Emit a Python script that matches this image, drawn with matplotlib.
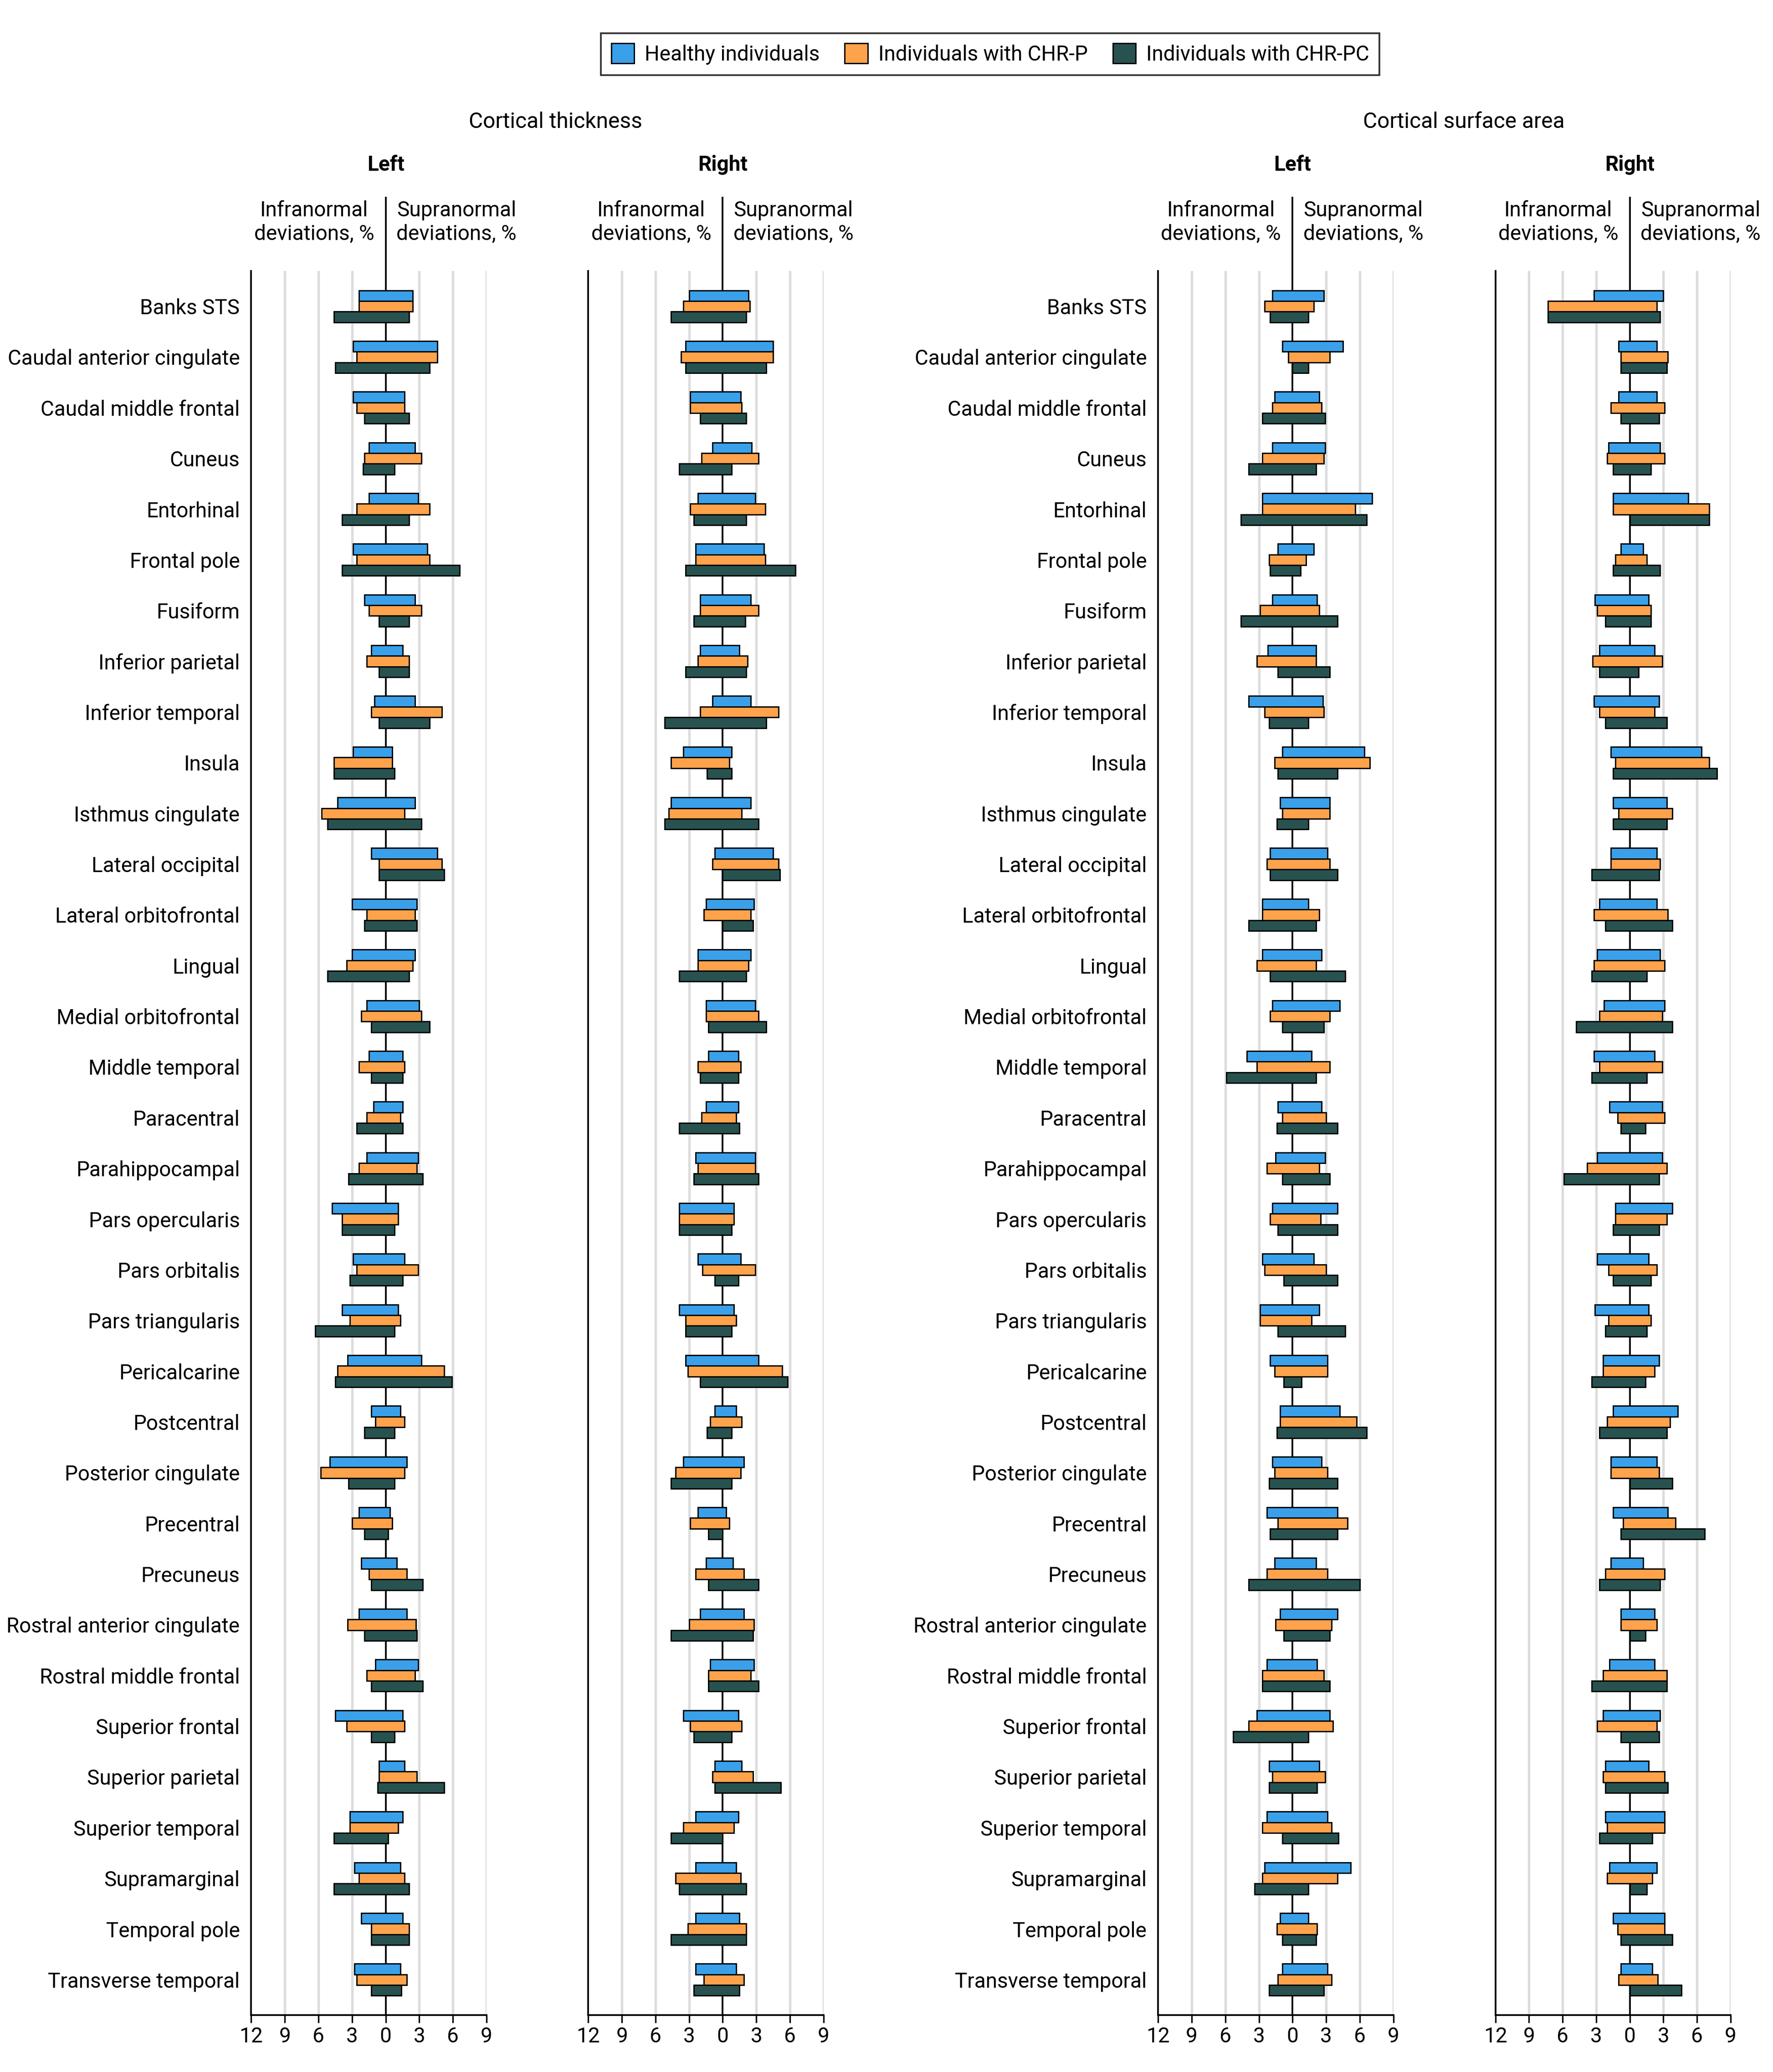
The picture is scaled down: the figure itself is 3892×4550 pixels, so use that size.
import matplotlib
matplotlib.use("Agg")
import matplotlib.pyplot as plt
from matplotlib.patches import Patch
import numpy as np

plt.rcParams['font.family'] = ['Roboto', 'DejaVu Sans']

# Brain regions (top to bottom)
regions = ["Banks STS", "Caudal anterior cingulate", "Caudal middle frontal", "Cuneus",
           "Entorhinal", "Frontal pole", "Fusiform", "Inferior parietal", "Inferior temporal",
           "Insula", "Isthmus cingulate", "Lateral occipital", "Lateral orbitofrontal",
           "Lingual", "Medial orbitofrontal", "Middle temporal", "Paracentral",
           "Parahippocampal", "Pars opercularis", "Pars orbitalis", "Pars triangularis",
           "Pericalcarine", "Postcentral", "Posterior cingulate", "Precentral", "Precuneus",
           "Rostral anterior cingulate", "Rostral middle frontal", "Superior frontal",
           "Superior parietal", "Superior temporal", "Supramarginal", "Temporal pole",
           "Transverse temporal"]

groups = ["Healthy individuals", "Individuals with CHR-P", "Individuals with CHR-PC"]
colors = ["#3aa0ea", "#ffa24c", "#28524f"]

# Cortical thickness, left hemisphere (% infranormal / % supranormal)
ct_left_hc_infra = [2.4, 2.9, 2.9, 1.5, 1.5, 2.9, 1.9, 1.3, 1.0, 2.9, 4.3, 1.3, 3.0, 3.0, 1.7, 1.5, 1.1,
                    1.7, 4.8, 2.9, 3.9, 3.4, 1.3, 5.0, 2.4, 2.2, 2.4, 0.9, 4.5, 0.6, 3.2, 2.8, 2.2, 2.8]
ct_left_hc_supra = [2.4, 4.6, 1.7, 2.6, 2.9, 3.7, 2.6, 1.5, 2.6, 0.6, 2.6, 4.6, 2.8, 2.6, 3.0, 1.5, 1.5,
                    2.9, 1.1, 1.7, 1.1, 3.2, 1.3, 1.9, 0.4, 1.0, 1.9, 2.9, 1.5, 1.7, 1.5, 1.3, 1.5, 1.3]
ct_left_p_infra = [2.4, 2.6, 2.6, 1.9, 2.6, 2.6, 1.5, 1.7, 1.3, 4.6, 5.7, 0.6, 1.7, 3.5, 2.2, 2.4, 1.7,
                   2.4, 3.9, 2.6, 3.2, 4.3, 0.9, 5.8, 3.0, 1.5, 3.4, 1.7, 3.5, 0.6, 3.2, 2.4, 1.3, 2.6]
ct_left_p_supra = [2.4, 4.6, 1.7, 3.2, 3.9, 3.9, 3.2, 2.1, 5.0, 0.6, 1.7, 5.0, 2.6, 2.4, 3.2, 1.7, 1.3,
                   2.8, 1.1, 2.9, 1.3, 5.2, 1.7, 1.7, 0.6, 1.9, 2.7, 2.6, 1.7, 2.8, 1.1, 1.7, 2.1, 1.9]
ct_left_pc_infra = [4.6, 4.5, 1.9, 2.0, 3.9, 3.9, 0.6, 0.6, 0.6, 4.6, 5.2, 0.6, 1.9, 5.2, 1.3, 1.3, 2.6,
                    3.3, 3.9, 3.2, 6.3, 4.5, 1.9, 3.3, 1.9, 1.3, 1.9, 1.3, 1.3, 0.7, 4.6, 4.6, 1.3, 1.3]
ct_left_pc_supra = [2.1, 3.9, 2.1, 0.8, 2.1, 6.6, 2.1, 2.1, 3.9, 0.8, 3.2, 5.2, 2.8, 2.1, 3.9, 1.5, 1.5,
                    3.3, 0.8, 1.5, 0.8, 5.9, 0.8, 0.8, 0.2, 3.3, 2.8, 3.3, 0.8, 5.2, 0.2, 2.1, 2.1, 1.4]

# Cortical thickness, right hemisphere
ct_right_hc_infra = [3.0, 3.3, 2.9, 0.9, 2.2, 2.4, 2.0, 2.0, 0.9, 3.5, 4.6, 0.7, 1.5, 2.2, 1.5, 1.3, 1.5,
                     2.4, 3.9, 2.2, 3.9, 3.3, 0.7, 3.5, 2.2, 1.5, 2.0, 1.1, 3.5, 0.7, 2.4, 2.4, 2.4, 2.4]
ct_right_hc_supra = [2.3, 4.5, 1.6, 2.6, 2.9, 3.7, 2.5, 1.5, 2.5, 0.8, 2.5, 4.5, 2.8, 2.5, 2.9, 1.4, 1.4,
                     2.9, 1.0, 1.6, 1.0, 3.2, 1.2, 1.9, 0.3, 0.9, 1.9, 2.8, 1.4, 1.7, 1.4, 1.2, 1.5, 1.2]
ct_right_p_infra = [3.5, 3.7, 2.9, 1.9, 2.9, 2.4, 2.0, 2.2, 2.0, 4.6, 4.8, 0.9, 1.7, 2.2, 1.5, 2.2, 1.9,
                    2.2, 3.9, 1.8, 3.3, 3.1, 1.1, 4.2, 2.9, 2.4, 3.0, 1.3, 2.9, 0.9, 3.5, 4.2, 3.1, 1.7]
ct_right_p_supra = [2.4, 4.5, 1.7, 3.2, 3.8, 3.8, 3.2, 2.2, 5.0, 0.6, 1.7, 5.0, 2.5, 2.3, 3.2, 1.6, 1.2,
                    2.9, 1.0, 2.9, 1.2, 5.3, 1.7, 1.6, 0.6, 1.9, 2.8, 2.5, 1.7, 2.7, 1.0, 1.6, 2.1, 1.9]
ct_right_pc_infra = [4.6, 3.3, 2.0, 3.9, 2.6, 3.3, 2.6, 3.3, 5.2, 1.4, 5.2, 0.0, 0.0, 3.9, 1.3, 2.0, 3.9,
                     2.6, 3.9, 0.7, 3.3, 2.0, 1.4, 4.6, 1.3, 1.3, 4.6, 1.3, 2.6, 0.7, 4.6, 3.9, 4.6, 2.6]
ct_right_pc_supra = [2.1, 3.9, 2.1, 0.8, 2.1, 6.5, 2.0, 2.1, 3.9, 0.8, 3.2, 5.1, 2.7, 2.1, 3.9, 1.4, 1.5,
                     3.2, 0.8, 1.4, 0.8, 5.8, 0.8, 0.8, 0.0, 3.2, 2.7, 3.2, 0.8, 5.2, 0.0, 2.1, 2.1, 1.5]

# Cortical surface area, left hemisphere
sa_left_hc_infra = [1.8, 0.9, 1.6, 1.8, 2.7, 1.3, 1.8, 2.2, 3.9, 0.9, 1.1, 2.0, 2.7, 2.7, 1.8, 4.1, 1.3,
                    1.5, 1.8, 2.7, 2.9, 2.0, 1.1, 1.8, 2.3, 1.6, 1.1, 2.3, 3.2, 2.1, 2.3, 2.5, 1.1, 0.9]
sa_left_hc_supra = [2.8, 4.5, 2.4, 2.9, 7.1, 1.9, 2.2, 2.1, 2.7, 6.4, 3.3, 3.1, 1.4, 2.6, 4.2, 1.7, 2.6,
                    2.9, 4.0, 1.9, 2.4, 3.1, 4.2, 2.6, 4.0, 2.1, 4.0, 2.2, 3.3, 2.4, 3.1, 5.2, 1.4, 3.1]
sa_left_p_infra = [2.5, 0.4, 1.8, 2.7, 2.7, 2.1, 2.9, 3.2, 2.5, 1.6, 0.9, 2.3, 2.7, 3.2, 2.0, 3.2, 0.9,
                   2.3, 2.0, 2.5, 2.9, 1.6, 1.1, 1.6, 1.3, 2.3, 1.5, 2.7, 3.9, 1.8, 2.7, 2.7, 1.4, 1.3]
sa_left_p_supra = [1.9, 3.3, 2.6, 2.8, 5.6, 1.2, 2.4, 2.1, 2.8, 6.9, 3.3, 3.3, 2.4, 2.1, 3.3, 3.3, 3.0,
                   2.4, 2.5, 3.0, 1.7, 3.1, 5.7, 3.1, 4.9, 3.1, 3.5, 2.8, 3.6, 2.9, 3.5, 4.0, 2.2, 3.5]
sa_left_pc_infra = [2.0, 0.0, 2.7, 3.9, 4.6, 2.0, 4.6, 1.3, 2.1, 1.3, 1.4, 2.0, 3.9, 2.0, 0.9, 5.9, 1.4,
                    0.9, 1.3, 0.8, 1.3, 0.8, 1.4, 2.1, 2.0, 3.9, 0.8, 2.7, 5.3, 2.1, 0.9, 3.4, 0.9, 2.1]
sa_left_pc_supra = [1.4, 1.4, 2.9, 2.1, 6.6, 0.7, 4.0, 3.3, 1.4, 4.0, 1.4, 4.0, 2.1, 4.7, 2.8, 2.1, 4.0,
                    3.3, 4.0, 4.0, 4.7, 0.8, 6.6, 4.0, 4.0, 6.0, 3.3, 3.3, 1.4, 2.2, 4.1, 1.4, 2.1, 2.8]

# Cortical surface area, right hemisphere
sa_right_hc_infra = [3.2, 1.0, 1.0, 1.9, 1.5, 0.8, 3.1, 2.7, 3.2, 1.7, 1.5, 1.7, 2.7, 2.9, 2.3, 3.2, 1.8,
                     2.9, 1.3, 2.9, 3.1, 2.4, 1.5, 1.7, 1.5, 1.7, 0.8, 1.8, 2.4, 2.2, 2.2, 1.8, 1.5, 0.8]
sa_right_hc_supra = [3.0, 2.4, 2.4, 2.7, 5.2, 1.2, 1.7, 2.2, 2.6, 6.4, 3.3, 2.4, 2.4, 2.7, 3.1, 2.2, 2.9,
                     2.9, 3.8, 1.7, 1.7, 2.6, 4.3, 2.4, 3.4, 1.2, 2.2, 2.2, 2.7, 1.7, 3.1, 2.4, 3.1, 2.0]
sa_right_p_infra = [7.3, 0.8, 1.7, 2.0, 1.5, 1.3, 2.9, 3.3, 2.7, 1.3, 1.0, 1.7, 3.2, 3.2, 2.7, 2.7, 1.1,
                    3.8, 1.3, 1.9, 1.9, 2.4, 2.0, 1.7, 0.6, 2.2, 0.8, 2.4, 2.9, 2.4, 2.0, 2.0, 1.1, 1.0]
sa_right_p_supra = [2.4, 3.4, 3.1, 3.1, 7.1, 1.5, 1.9, 2.9, 2.2, 7.1, 3.8, 2.7, 3.4, 3.1, 2.9, 2.9, 3.1,
                    3.3, 3.3, 2.4, 1.9, 2.2, 3.6, 2.6, 4.1, 3.1, 2.4, 3.3, 2.4, 3.1, 3.1, 2.0, 3.1, 2.5]
sa_right_pc_infra = [7.3, 0.8, 0.8, 1.5, 0.0, 1.5, 2.2, 2.7, 2.2, 1.5, 1.5, 3.4, 2.2, 3.4, 4.8, 3.4, 0.8,
                     5.9, 1.5, 1.5, 2.2, 3.4, 2.7, 0.0, 0.8, 2.7, 0.0, 3.4, 0.8, 2.2, 2.7, 0.0, 0.8, 0.0]
sa_right_pc_supra = [2.7, 3.3, 2.6, 1.9, 7.1, 2.7, 1.9, 0.8, 3.3, 7.8, 3.3, 2.6, 3.8, 1.5, 3.8, 1.5, 1.4,
                     2.6, 2.6, 1.9, 1.5, 1.4, 3.3, 3.8, 6.7, 2.7, 1.4, 3.3, 2.6, 3.4, 2.0, 1.5, 3.8, 4.6]

panels = [
    ([ct_left_hc_infra, ct_left_p_infra, ct_left_pc_infra],
     [ct_left_hc_supra, ct_left_p_supra, ct_left_pc_supra], "Left", True),
    ([ct_right_hc_infra, ct_right_p_infra, ct_right_pc_infra],
     [ct_right_hc_supra, ct_right_p_supra, ct_right_pc_supra], "Right", False),
    ([sa_left_hc_infra, sa_left_p_infra, sa_left_pc_infra],
     [sa_left_hc_supra, sa_left_p_supra, sa_left_pc_supra], "Left", True),
    ([sa_right_hc_infra, sa_right_p_infra, sa_right_pc_infra],
     [sa_right_hc_supra, sa_right_p_supra, sa_right_pc_supra], "Right", False),
]

W, H = 3892, 4550
fig = plt.figure(figsize=(W / 300, H / 300), dpi=300)

# Axes placement (fractions of figure)
lefts = [0.1417, 0.3318, 0.6532, 0.8434]
ax_w = 0.1327
ax_b = 0.0274
ax_h = 0.8419
fs = 11

y = np.arange(len(regions))
bh = 0.21

for (infra, supra, side, show_labels), x0 in zip(panels, lefts):
    ax = fig.add_axes([x0, ax_b, ax_w, ax_h])
    for k in range(3):
        inf = np.array(infra[k])
        sup = np.array(supra[k])
        ax.barh(y + (k - 1) * bh, inf + sup, left=-inf, height=bh,
                color=colors[k], edgecolor="black", linewidth=0.7, zorder=3)
    for gx in [-9, -6, -3, 3, 6, 9]:
        ax.axvline(gx, color="#dcdcdc", lw=1.3, zorder=0)
    ax.axvline(0, ymin=0, ymax=1.042, color="black", lw=0.9, zorder=2, clip_on=False)
    ax.set_xlim(-12, 9)
    ax.set_ylim(len(regions) - 0.3, -0.7)
    ax.set_xticks([-12, -9, -6, -3, 0, 3, 6, 9])
    ax.set_xticklabels(["12", "9", "6", "3", "0", "3", "6", "9"], fontsize=fs)
    ax.tick_params(axis="x", length=4, width=0.8, pad=2)
    ax.set_yticks(y)
    if show_labels:
        ax.set_yticklabels(regions, fontsize=fs)
    else:
        ax.set_yticklabels([])
    ax.tick_params(axis="y", length=0, pad=6)
    for s in ["top", "right"]:
        ax.spines[s].set_visible(False)
    ax.spines["left"].set_linewidth(0.9)
    ax.spines["bottom"].set_linewidth(0.9)

    zx = x0 + ax_w * 12 / 21
    fig.text(zx, 0.9205, side, ha="center", va="center", fontsize=fs, fontweight="bold")
    fig.text(zx - 0.0065, 0.8928, "Infranormal\ndeviations, %", ha="right", va="center",
             multialignment="center", fontsize=fs, linespacing=1.2)
    fig.text(zx + 0.006, 0.8928, "Supranormal\ndeviations, %", ha="left", va="center",
             multialignment="center", fontsize=fs, linespacing=1.2)

fig.text(0.3132, 0.941, "Cortical thickness", ha="center", va="center", fontsize=fs + 0.5)
fig.text(0.8255, 0.941, "Cortical surface area", ha="center", va="center", fontsize=fs + 0.5)

handles = [Patch(facecolor=c, edgecolor="black", linewidth=0.7) for c in colors]
leg = fig.legend(handles, groups, loc="center", bbox_to_anchor=(0.5585, 0.9739), ncol=3,
                 fontsize=fs, frameon=True, fancybox=False, edgecolor="black",
                 handlelength=1.1, handleheight=1.1, handletextpad=0.5, columnspacing=1.2,
                 borderpad=0.5)
leg.get_frame().set_linewidth(0.9)

fig.savefig("out.png", dpi=300)
